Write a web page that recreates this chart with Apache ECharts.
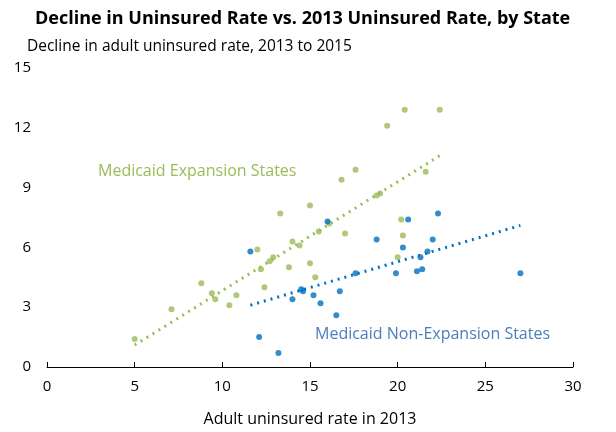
<!DOCTYPE html>
<html><head><meta charset="utf-8">
<script src="https://cdn.jsdelivr.net/npm/echarts@6/dist/echarts.min.js"></script>
<style>body{margin:0}#main{width:616px;height:432px}</style>
</head><body><div id="main"></div>
<script>
var expansion=[[5,1.4],[7.1,2.9],[8.8,4.2],[9.4,3.7],[9.6,3.4],[10.4,3.1],[10.8,3.6],[12.0,5.9],[12.2,4.9],[12.4,4.0],[12.7,5.3],[12.9,5.5],[13.3,7.7],[13.8,5.0],[14.0,6.3],[14.4,6.1],[15.0,5.2],[15.0,8.1],[15.3,4.5],[15.5,6.8],[16.1,7.2],[16.8,9.4],[17.0,6.7],[17.6,9.9],[18.8,8.6],[19.0,8.7],[19.4,12.1],[20.0,5.5],[20.2,7.4],[20.3,6.6],[20.4,12.9],[21.6,9.8],[22.4,12.9]];
var nonExpansion=[[11.6,5.8],[12.1,1.5],[13.2,0.7],[14.0,3.4],[14.5,3.9],[14.6,3.8],[15.2,3.6],[15.6,3.2],[16.0,7.3],[16.5,2.6],[16.7,3.8],[17.6,4.7],[18.8,6.4],[19.9,4.7],[20.3,6.0],[20.6,7.4],[21.1,4.8],[21.3,5.5],[21.4,4.9],[21.7,5.8],[22.0,6.4],[22.3,7.7],[27.0,4.7]];
var expansionTrend=[[5,1.1],[22.4,10.6]];
var nonExpansionTrend=[[11.6,3.1],[27,7.1]];
var green='#9bbb59', blue='#0070c0';
var chart=echarts.init(document.getElementById('main'));
chart.setOption({
  title:[{text:'Decline in Uninsured Rate vs. 2013 Uninsured Rate, by State',left:30,top:5,textStyle:{fontFamily:'Open Sans',fontSize:18,fontWeight:'bold',color:'#000'}},
    {text:'Decline in adult uninsured rate, 2013 to 2015',left:22,top:34,textStyle:{fontFamily:'Open Sans',fontSize:15.5,fontWeight:'normal',color:'#000'}}],
  grid:{left:47,right:43,top:68,bottom:65},
  xAxis:{type:'value',min:0,max:30,interval:5,name:'Adult uninsured rate in 2013',nameLocation:'middle',nameGap:44,
    nameTextStyle:{fontFamily:'Open Sans',fontSize:16,color:'#000'},
    axisLine:{lineStyle:{color:'#000'}},axisTick:{show:true,inside:true,length:5,lineStyle:{color:'#000'}},
    axisLabel:{fontFamily:'Open Sans',fontSize:15,color:'#000',margin:12},splitLine:{show:false}},
  yAxis:{type:'value',min:0,max:15,interval:3,axisLine:{show:false},axisTick:{show:false},
    axisLabel:{fontFamily:'Open Sans',fontSize:15,color:'#000',margin:16},splitLine:{show:false}},
  series:[
    {type:'line',data:expansionTrend,symbol:'none',lineStyle:{color:green,width:3,type:[2,5]},silent:true},
    {type:'line',data:nonExpansionTrend,symbol:'none',lineStyle:{color:blue,width:3,type:[2,5]},silent:true},
    {type:'scatter',data:expansion,symbolSize:6,itemStyle:{color:green}},
    {type:'scatter',data:nonExpansion,symbolSize:6,itemStyle:{color:blue}}
  ],
  graphic:[
    {type:'text',left:98,top:163,style:{text:'Medicaid Expansion States',fill:green,font:'16px "Open Sans"'}},
    {type:'text',left:315,top:326,style:{text:'Medicaid Non-Expansion States',fill:'#4a7ebb',font:'16px "Open Sans"'}}
  ]
});
</script></body></html>
